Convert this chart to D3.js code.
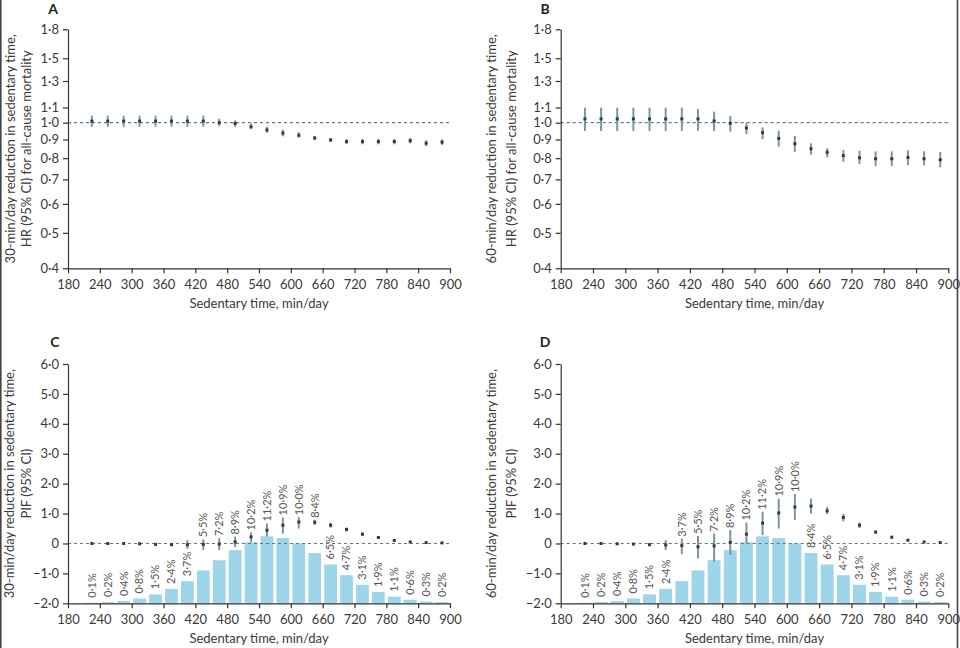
<!DOCTYPE html>
<html>
<head>
<meta charset="utf-8">
<script src="https://cdn.jsdelivr.net/npm/d3@7"></script>
<style>
body{margin:0;background:#fff}
text{font-family:Lato,"DejaVu Sans",sans-serif}
</style>
</head>
<body>
<div id="chart"></div>
<script>
var width=960, height=648;

var sedTime=[225,255,285,315,345,375,405,435,465,495,525,555,585,615,645,675,705,735,765,795,825,855,885];
var xTicks=[180,240,300,360,420,480,540,600,660,720,780,840,900];
var hrTicks=[0.4,0.5,0.6,0.7,0.8,0.9,1.0,1.1,1.3,1.5,1.8];
var pifTicks=[-2,-1,0,1,2,3,4,5,6];

// HR, 30 min/day reduction
var hr30=[1.01,1.01,1.01,1.01,1.01,1.01,1.01,1.01,1.00,0.995,0.975,0.955,0.937,0.924,0.908,0.897,0.888,0.888,0.888,0.888,0.893,0.879,0.885];
var hr30Lo=[0.975,0.975,0.975,0.975,0.975,0.975,0.975,0.975,0.98,0.975,0.96,0.94,0.918,0.91,0.897,0.888,0.875,0.873,0.873,0.873,0.878,0.863,0.87];
var hr30Hi=[1.045,1.045,1.045,1.045,1.045,1.045,1.045,1.045,1.025,1.015,0.995,0.975,0.958,0.942,0.92,0.908,0.902,0.903,0.903,0.903,0.908,0.895,0.9];

// HR, 60 min/day reduction
var hr60=[1.024,1.024,1.024,1.024,1.024,1.024,1.024,1.024,1.011,0.996,0.967,0.939,0.906,0.876,0.849,0.830,0.813,0.802,0.797,0.797,0.804,0.797,0.792];
var hr60Lo=[0.949,0.949,0.949,0.949,0.949,0.949,0.949,0.951,0.949,0.945,0.931,0.901,0.860,0.832,0.818,0.804,0.782,0.771,0.761,0.761,0.765,0.765,0.755];
var hr60Hi=[1.099,1.099,1.099,1.099,1.099,1.099,1.099,1.09,1.072,1.043,1.000,0.971,0.951,0.920,0.878,0.851,0.842,0.838,0.835,0.835,0.840,0.835,0.832];

// PIF, 30 min/day reduction
var pif30=[0.0,0.0,0.0,-0.01,-0.03,-0.04,-0.04,-0.03,-0.02,0.05,0.22,0.44,0.61,0.72,0.71,0.61,0.47,0.31,0.2,0.1,0.05,0.03,0.02];
var pif30Lo=[-0.02,-0.02,-0.03,-0.04,-0.06,-0.09,-0.18,-0.22,-0.22,-0.12,0.05,0.23,0.33,0.5,0.62,0.53,0.40,0.26,0.17,0.08,0.04,0.02,0.01];
var pif30Hi=[0.02,0.02,0.02,0.02,0.01,0.01,0.11,0.14,0.18,0.23,0.37,0.67,0.87,0.88,0.79,0.69,0.53,0.37,0.23,0.12,0.06,0.04,0.03];

// PIF, 60 min/day reduction
var pif60=[0.0,0.0,-0.01,-0.02,-0.04,-0.05,-0.07,-0.11,-0.08,0.04,0.31,0.68,1.02,1.22,1.25,1.09,0.87,0.61,0.38,0.21,0.11,0.05,0.03];
var pif60Lo=[-0.02,-0.02,-0.03,-0.05,-0.09,-0.22,-0.35,-0.5,-0.6,-0.38,0.01,0.28,0.5,0.78,1.0,0.98,0.74,0.52,0.33,0.18,0.09,0.04,0.02];
var pif60Hi=[0.02,0.02,0.01,0.01,0.02,0.11,0.16,0.25,0.33,0.45,0.7,1.06,1.5,1.65,1.5,1.22,0.99,0.70,0.43,0.24,0.13,0.07,0.04];

// share of participants in each sedentary time group (%)
var prevalence=[0.1,0.2,0.4,0.8,1.5,2.4,3.7,5.5,7.2,8.9,10.2,11.2,10.9,10.0,8.4,6.5,4.7,3.1,1.9,1.1,0.6,0.3,0.2];
// which labels sit on top of the CI instead of the bar
var labelOnCI30=[7,8,9,10,11,12,13,14];
var labelOnCI60=[6,7,8,9,10,11,12,13];

var panels=[
  {id:"A", left:68, right:450, top:29.3, bottom:268.3, log:true, est:hr30, lo:hr30Lo, hi:hr30Hi,
   t1:"30-min/day reduction in sedentary time,", t2:"HR (95% CI) for all-cause mortality", tx:[-58,-42], lx:53, ly:14},
  {id:"B", left:560.7, right:948.3, top:29.3, bottom:268.3, log:true, est:hr60, lo:hr60Lo, hi:hr60Hi,
   t1:"60-min/day reduction in sedentary time,", t2:"HR (95% CI) for all-cause mortality", tx:[-69,-49], lx:545, ly:14},
  {id:"C", left:68, right:450, top:364, bottom:603.3, log:false, est:pif30, lo:pif30Lo, hi:pif30Hi, onCI:labelOnCI30,
   t1:"30-min/day reduction in sedentary time,", t2:"PIF (95% CI)", tx:[-59,-42], lx:55, ly:347},
  {id:"D", left:560.7, right:948.3, top:364, bottom:603.3, log:false, est:pif60, lo:pif60Lo, hi:pif60Hi, onCI:labelOnCI60,
   t1:"60-min/day reduction in sedentary time,", t2:"PIF (95% CI)", tx:[-69,-49], lx:545, ly:347}
];

function fmt(d){
  if(d===0) return "0";
  return d3.format(".1f")(d).replace(".", "\u00b7");
}

var svg=d3.select('#chart').append('svg')
  .attr('width', width)
  .attr('height', height);

panels.forEach(drawPanel);

// frame lines at the sides
svg.append('line').attr('x1',0.8).attr('x2',0.8).attr('y1',0).attr('y2',height)
  .attr('stroke','#444').attr('stroke-width',1.6);
svg.append('line').attr('x1',957.5).attr('x2',957.5).attr('y1',0).attr('y2',height)
  .attr('stroke','#444').attr('stroke-width',1.6);

function drawPanel(p){
  var x=d3.scaleLinear().domain([180,900]).range([p.left,p.right]);
  var y;
  if(p.log) y=d3.scaleLog().domain([0.4,1.8]).range([p.bottom,p.top]);
  else y=d3.scaleLinear().domain([-2,6]).range([p.bottom,p.top]);

  var g=svg.append('g');

  // prevalence bars (0-40% spans the PIF axis)
  var yBar;
  if(!p.log){
    yBar=d3.scaleLinear().domain([0,40]).range([p.bottom,p.top]);
    g.selectAll('.bar').data(prevalence).join('rect')
      .attr('class','bar')
      .attr('x', function(d,i){ return x(sedTime[i]-12); })
      .attr('width', x(204)-x(180))
      .attr('y', function(d){ return yBar(d); })
      .attr('height', function(d){ return p.bottom-yBar(d); })
      .attr('fill','#9dd6e8');
  }

  // reference line
  var ref=p.log?1:0;
  g.append('line')
    .attr('x1',x(180)).attr('x2',x(900))
    .attr('y1',y(ref)).attr('y2',y(ref))
    .attr('stroke','#5f7886').attr('stroke-width',1.2)
    .attr('stroke-dasharray','3,3');

  // CIs
  g.selectAll('.ci').data(p.est).join('line')
    .attr('class','ci')
    .attr('x1', function(d,i){ return x(sedTime[i]); })
    .attr('x2', function(d,i){ return x(sedTime[i]); })
    .attr('y1', function(d,i){ return y(p.lo[i]); })
    .attr('y2', function(d,i){ return y(p.hi[i]); })
    .attr('stroke','#7b96a2').attr('stroke-width',2);

  // estimates
  g.selectAll('.pt').data(p.est).join('rect')
    .attr('class','pt')
    .attr('x', function(d,i){ return x(sedTime[i])-1.5; })
    .attr('y', function(d){ return y(d)-1.5; })
    .attr('width',3).attr('height',3)
    .attr('fill','#2b3d45');

  // axes
  var xa=g.append('g')
    .attr('transform','translate(0,'+p.bottom+')')
    .call(d3.axisBottom(x).tickValues(xTicks).tickSize(5).tickSizeOuter(0).tickPadding(6).tickFormat(d3.format('d')));
  var ya=g.append('g')
    .attr('transform','translate('+p.left+',0)')
    .call(d3.axisLeft(y).tickValues(p.log?hrTicks:pifTicks).tickSize(5).tickSizeOuter(0).tickPadding(4).tickFormat(fmt));
  [xa,ya].forEach(function(a){
    a.selectAll('path,line').attr('stroke','#333').attr('stroke-width',1.2);
    a.selectAll('text').attr('fill','#3a3a3a').style('font-size','13px').style('font-family','Lato, sans-serif');
  });

  // prevalence labels
  if(!p.log){
    g.selectAll('.lab').data(prevalence).join('text')
      .attr('class','lab')
      .attr('transform', function(d,i){
        var yy = p.onCI.indexOf(i)>=0 ? y(p.hi[i])-2 : yBar(d)-5;
        return 'translate('+x(sedTime[i])+','+yy+') rotate(-90)';
      })
      .attr('dy','0.35em')
      .attr('text-anchor','start')
      .style('font-size','11px')
      .attr('fill','#555')
      .text(function(d){ return d3.format('.1f')(d).replace('.', '\u00b7')+'%'; });
  }

  // axis titles
  var cy=(p.top+p.bottom)/2;
  g.append('text')
    .attr('transform','translate('+(p.left+p.tx[0])+','+cy+') rotate(-90)')
    .attr('text-anchor','middle').attr('dy','0.35em')
    .style('font-size','13px').attr('fill','#3a3a3a')
    .text(p.t1);
  g.append('text')
    .attr('transform','translate('+(p.left+p.tx[1])+','+cy+') rotate(-90)')
    .attr('text-anchor','middle').attr('dy','0.35em')
    .style('font-size','13px').attr('fill','#3a3a3a')
    .text(p.t2);
  g.append('text')
    .attr('x',(p.left+p.right)/2).attr('y',p.bottom+40)
    .attr('text-anchor','middle')
    .style('font-size','13px').attr('fill','#3a3a3a')
    .text('Sedentary time, min/day');

  // panel letter
  g.append('text')
    .attr('x',p.lx).attr('y',p.ly)
    .attr('text-anchor','middle')
    .style('font-size','14px').style('font-weight','bold').attr('fill','#222')
    .text(p.id);
}
</script>
</body>
</html>
